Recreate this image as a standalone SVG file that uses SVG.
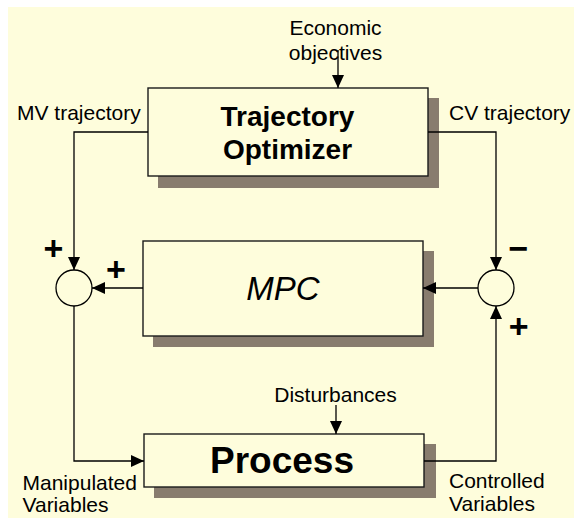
<svg xmlns="http://www.w3.org/2000/svg" width="574" height="518" viewBox="0 0 574 518">
<defs>
<style>
.bg{fill:#FFFFFF}
.panel{fill:#FEFDDC}
.box{fill:#FEFDDC;stroke:#1a1a1a;stroke-width:1.4}
.shadow{fill:#887C6E}
.sum{fill:#FEFDDC;stroke:#000;stroke-width:1.3}
.wire{fill:none;stroke:#000;stroke-width:1.3}
.lbl{font-family:"Liberation Sans",Arial,sans-serif;font-size:21px;fill:#000}
.sign{font-family:"Liberation Sans",Arial,sans-serif;font-size:34px;font-weight:bold;fill:#000;text-anchor:middle}
.title{font-family:"Liberation Sans",Arial,sans-serif;font-weight:bold;fill:#000;text-anchor:middle}
</style>
<marker id="ah" markerUnits="userSpaceOnUse" markerWidth="14" markerHeight="12" refX="13" refY="6" orient="auto">
<path d="M0,0 L13,6 L0,12 z" fill="#000"/>
</marker>
</defs>
<rect class="bg" x="0" y="0" width="574" height="518"/>
<rect class="panel" x="8" y="7" width="566" height="511"/>

<g id="economic-objectives">
<text class="lbl" x="335.5" y="35" text-anchor="middle">Economic</text>
<text class="lbl" x="335.5" y="60" text-anchor="middle">objectives</text>
</g>

<g id="trajectory-optimizer">
<rect class="shadow" x="158" y="98" width="281" height="90"/>
<rect class="box" x="148" y="88" width="280" height="88"/>
<text class="title" x="287.5" y="126" font-size="28">Trajectory</text>
<text class="title" x="287.5" y="159" font-size="28">Optimizer</text>
</g>

<g id="mv-trajectory-label"><text class="lbl" x="17" y="120">MV trajectory</text></g>
<g id="cv-trajectory-label"><text class="lbl" x="449" y="120">CV trajectory</text></g>

<g id="mpc">
<rect class="shadow" x="153" y="251" width="281" height="96"/>
<rect class="box" x="143" y="241" width="280" height="95"/>
<text x="283" y="300" font-family="Liberation Sans, Arial, sans-serif" font-size="33" font-style="italic" text-anchor="middle" fill="#000">MPC</text>
</g>

<g id="sum-left">
<circle class="sum" cx="74" cy="288" r="18"/>
<text class="sign" x="53.5" y="260">+</text>
<text class="sign" x="116" y="281">+</text>
</g>

<g id="sum-right">
<circle class="sum" cx="496" cy="288" r="18"/>
<text class="sign" x="518.5" y="260">−</text>
<text class="sign" x="518.7" y="338">+</text>
</g>

<g id="disturbances"><text class="lbl" x="335.5" y="401.5" text-anchor="middle">Disturbances</text></g>

<g id="process">
<rect class="shadow" x="154" y="444" width="282" height="54"/>
<rect class="box" x="144" y="434" width="280" height="53"/>
<text class="title" x="282" y="473" font-size="37">Process</text>
</g>

<g id="manipulated-variables">
<text class="lbl" x="22.5" y="490">Manipulated</text>
<text class="lbl" x="22.5" y="511.5">Variables</text>
</g>

<g id="controlled-variables">
<text class="lbl" x="449" y="488">Controlled</text>
<text class="lbl" x="449" y="511">Variables</text>
</g>

<g id="connectors">
<path class="wire" d="M338,50 V88" marker-end="url(#ah)"/>
<path class="wire" d="M148,132 H74 V270" marker-end="url(#ah)"/>
<path class="wire" d="M428,132 H496 V270" marker-end="url(#ah)"/>
<path class="wire" d="M143,288 H92" marker-end="url(#ah)"/>
<path class="wire" d="M478,288 H423" marker-end="url(#ah)"/>
<path class="wire" d="M74,306 V461 H144" marker-end="url(#ah)"/>
<path class="wire" d="M424,461 H496 V306" marker-end="url(#ah)"/>
<path class="wire" d="M336,405 V434" marker-end="url(#ah)"/>
</g>
</svg>
